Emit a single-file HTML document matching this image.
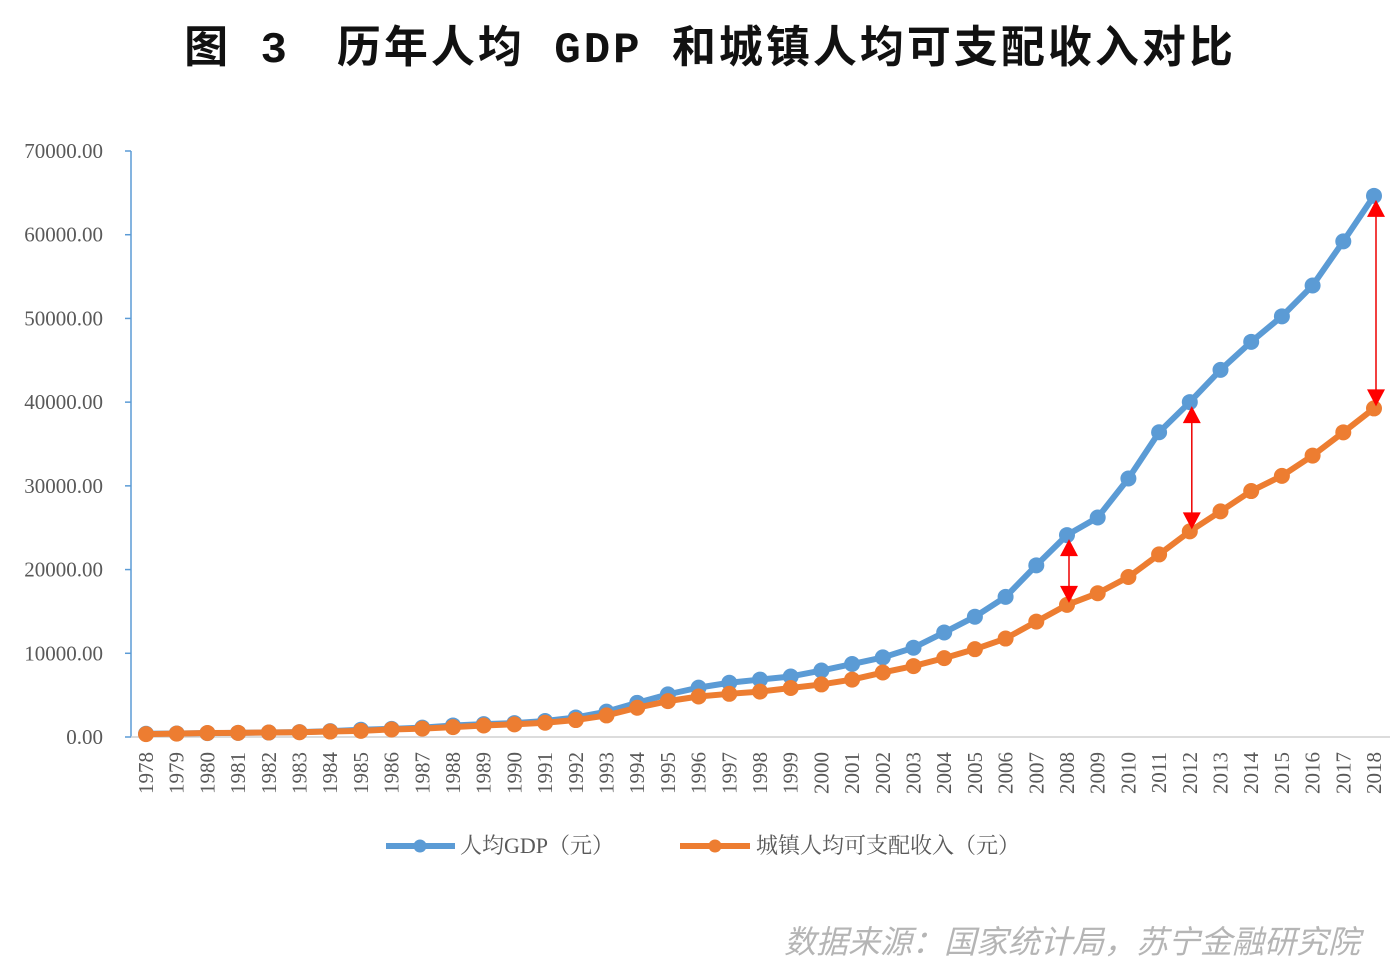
<!DOCTYPE html>
<html><head><meta charset="utf-8">
<style>
html,body{margin:0;padding:0;background:#fff;}
body{width:1399px;height:967px;overflow:hidden;position:relative;}
svg{position:absolute;left:0;top:0;}
</style></head>
<body>
<svg id="chart" width="1399" height="967" xmlns="http://www.w3.org/2000/svg">
<text x="710" y="62" text-anchor="middle" font-family="'Liberation Mono','Noto Sans CJK SC',monospace" font-size="44" font-weight="bold" letter-spacing="3" fill="#111">图 3　历年人均 GDP 和城镇人均可支配收入对比</text>
<g id="axes"></g>
<g id="series"></g>
<g id="arrows"></g>
<g>
  <g>
    <line x1="386" y1="846" x2="455" y2="846" stroke="#5b9bd5" stroke-width="6"/>
    <circle cx="420" cy="846" r="6.5" fill="#5b9bd5"/>
    <text x="460" y="853" font-family="'Liberation Serif','Noto Serif CJK SC',serif" font-size="22" fill="#595959">人均GDP（元）</text>
  </g>
  <g>
    <line x1="680" y1="846" x2="750" y2="846" stroke="#ed7d31" stroke-width="6"/>
    <circle cx="715" cy="846" r="6.5" fill="#ed7d31"/>
    <text x="756" y="853" font-family="'Liberation Serif','Noto Serif CJK SC',serif" font-size="22" fill="#595959">城镇人均可支配收入（元）</text>
  </g>
</g>
<text x="1360" y="953" text-anchor="end" font-family="'Liberation Sans','Noto Sans CJK SC',sans-serif" font-size="32" font-style="italic" fill="#b5b5b5">数据来源：国家统计局，苏宁金融研究院</text>
</svg>
<script>
const years = [];
for (let y = 1978; y <= 2018; y++) years.push(String(y));
const gdpValues = [385,423,468,497,533,588,702,866,973,1123,1378,1536,1663,1912,2334,3027,4081,5091,5898,6481,6860,7229,7942,8717,9506,10666,12487,14368,16738,20505,24121,26222,30876,36403,40007,43852,47203,50251,53935,59201,64644];
const incomeValues = [343,405,478,500,535,565,652,739,901,1002,1180,1374,1510,1701,2027,2577,3496,4283,4839,5160,5425,5854,6280,6860,7703,8472,9422,10493,11759,13786,15781,17175,19109,21810,24565,26955,29381,31195,33616,36396,39251];
const yTicks = [0,10000,20000,30000,40000,50000,60000,70000];
const arrowYears = ["2008","2012","2018"];

const NS = "http://www.w3.org/2000/svg";
const x0 = 146, x1 = 1374, yBase = 737, yTop = 151, yMax = 70000;
const xScale = i => x0 + i * (x1 - x0) / (years.length - 1);
const yScale = v => yBase - v / yMax * (yBase - yTop);
function mk(tag, attrs, parent){const e=document.createElementNS(NS,tag);for(const k in attrs)e.setAttribute(k,attrs[k]);parent.appendChild(e);return e;}

const axes = document.getElementById('axes');
const yAxis = mk('line',{x1:131,y1:yTop,x2:131,y2:yBase,stroke:'#5b9bd5','stroke-width':1.5},axes);


const xAxis = mk('line',{x1:131,y1:yBase,x2:1390,y2:yBase,stroke:'#d0d0d0','stroke-width':1.5},axes);


yTicks.forEach(v=>{
  const y = yScale(v);
  mk('line',{x1:125,y1:y,x2:131,y2:y,stroke:'#5b9bd5','stroke-width':1.5},axes);
  const t = mk('text',{x:103,y:y+7,'text-anchor':'end','font-family':"'Liberation Serif',serif",'font-size':21,fill:'#595959'},axes);
  t.textContent = v.toFixed(2);
  
  
});
years.forEach((yr,i)=>{
  const x = xScale(i);
  const t = mk('text',{x:0,y:0,transform:`translate(${x+7},${752}) rotate(-90)`,'text-anchor':'end','font-family':"'Liberation Serif',serif",'font-size':21,fill:'#595959'},axes);
  t.textContent = yr;
  
  
});

const series = document.getElementById('series');
function drawSeries(vals,color,name){
  const g = mk('g',{},series);
  
  
  mk('polyline',{points:vals.map((v,i)=>xScale(i)+','+yScale(v)).join(' '),fill:'none',stroke:color,'stroke-width':6,'stroke-linejoin':'round'},g);
  vals.forEach((v,i)=>{
    const c = mk('circle',{cx:xScale(i),cy:yScale(v),r:8,fill:color},g);
    
    
  });
}
drawSeries(gdpValues,'#5b9bd5','gdp-series');
drawSeries(incomeValues,'#ed7d31','income-series');

const arrows = document.getElementById('arrows');
arrowYears.forEach(yr=>{
  const i = years.indexOf(yr);
  const x = xScale(i)+2;
  const yA = yScale(gdpValues[i])+4, yB = yScale(incomeValues[i])-2;
  const g = mk('g',{},arrows);
  
  
  mk('line',{x1:x,y1:yA+14,x2:x,y2:yB-14,stroke:'#e00','stroke-width':1.5},g);
  mk('polygon',{points:`${x},${yA} ${x-9},${yA+17} ${x+9},${yA+17}`,fill:'#f00'},g);
  mk('polygon',{points:`${x},${yB} ${x-9},${yB-17} ${x+9},${yB-17}`,fill:'#f00'},g);
});
</script>
</body></html>
